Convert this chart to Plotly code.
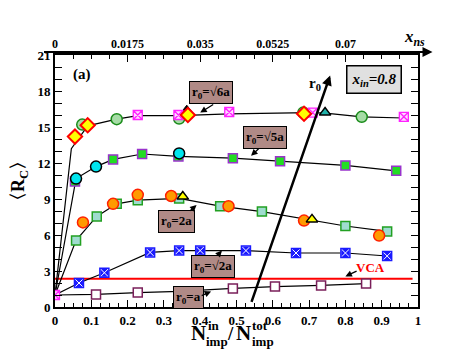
import plotly.graph_objects as go

# ---- data ----
# r0 = a  (open maroon squares)
xa = [0.113, 0.228, 0.342, 0.49, 0.606, 0.733, 0.857]
ya = [1.05, 1.2, 1.3, 1.55, 1.7, 1.8, 1.95]

# r0 = sqrt2 a  (blue patterned squares)
xb = [0.066, 0.136, 0.262, 0.342, 0.40, 0.526, 0.664, 0.80, 0.915]
yb = [2.0, 2.85, 4.55, 4.7, 4.7, 4.7, 4.5, 4.5, 4.25]

# r0 = 2a  (hatched green squares, orange circles, yellow triangles)
xg = [0.058, 0.115, 0.17, 0.228, 0.342, 0.455, 0.57, 0.80, 0.915]
yg = [5.55, 7.55, 8.6, 8.9, 9.05, 8.4, 7.95, 6.75, 6.3]
xo = [0.077, 0.16, 0.228, 0.32, 0.478, 0.686, 0.893]
yo = [7.05, 8.6, 9.35, 9.25, 8.4, 7.2, 5.95]
xyt = [0.352, 0.708]
yyt = [9.2, 7.3]

# r0 = sqrt5 a  (green filled squares, cyan circles)
xs5 = [0.055, 0.16, 0.24, 0.34, 0.49, 0.62, 0.80, 0.94]
ys5 = [10.45, 12.3, 12.75, 12.55, 12.4, 12.15, 11.8, 11.35]
xc = [0.058, 0.113, 0.342]
yc = [10.7, 11.7, 12.8]
x5_line = [0, 0.058, 0.113, 0.16, 0.24, 0.34, 0.49, 0.62, 0.80, 0.94]
y5_line = [1, 10.7, 11.7, 12.3, 12.75, 12.55, 12.4, 12.15, 11.8, 11.35]

# r0 = sqrt6 a  (green circles, magenta squares, diamonds, triangles)
xgc = [0.075, 0.17, 0.342, 0.684, 0.845]
ygc = [15.2, 15.65, 15.7, 16.2, 15.85]
xm = [0, 0.228, 0.34, 0.48, 0.71, 0.961]
ym = [1.0, 16.0, 16.0, 16.25, 16.2, 15.85]
xd = [0.055, 0.09, 0.366, 0.686]
yd = [14.2, 15.15, 16.0, 16.1]
xbt, ybt = [0.363], [16.4]
xtt, ytt = [0.744], [16.2]
x6_line = [0, 0.045, 0.09, 0.17, 0.228, 0.342, 0.48, 0.70, 0.745, 0.845, 0.96]
y6_line = [1, 13.2, 15.1, 15.65, 15.95, 15.95, 16.1, 16.2, 16.15, 15.85, 15.75]

vca = 2.35
top_ticks = [0, 0.0175, 0.035, 0.0525, 0.07]
top_text = ["0", "0.0175", "0.035", "0.0525", "0.07"]

FONT = "Liberation Serif"

fig = go.Figure()

def line(x, y):
    fig.add_trace(go.Scatter(x=x, y=y, mode="lines", line=dict(color="black", width=1.2),
                             hoverinfo="skip"))

def pts(x, y, sym, fill, edge, size=10, lw=1.5):
    fig.add_trace(go.Scatter(x=x, y=y, mode="markers",
                             marker=dict(symbol=sym, size=size, color=fill,
                                         line=dict(color=edge, width=lw))))

# VCA line
fig.add_trace(go.Scatter(x=[0, 0.985], y=[vca, vca], mode="lines",
                         line=dict(color="#ff0000", width=2)))

# lines
line([0] + xa, [1] + ya)
line([0] + xb, [1] + yb)
line([0] + xg, [1] + yg)
line(x5_line, y5_line)
line(x6_line, y6_line)

# markers
pts(xa, ya, "square", "white", "#7a1f5a", 9, 1.5)
pts(xb, yb, "square-x", "#1a1aff", "white", 9, 1)
pts(xb, yb, "square-open", "#1a1aff", "#1a1aff", 9, 1.5)
pts(xg, yg, "square", "#9fdccf", "#22a022", 9, 1.5)
pts(xo, yo, "circle", "#ff9a00", "#ff2000", 11, 1.5)
pts(xyt, yyt, "triangle-up", "#ffff00", "black", 10, 1.5)
pts(xs5, ys5, "square", "#22dd22", "#9933cc", 9, 1.5)
pts(xc, yc, "circle", "#00e5ee", "black", 11, 1.5)
pts(xgc, ygc, "circle", "#a6dca6", "#1a8c1a", 11, 1.5)
pts(xbt, ybt, "triangle-up", "black", "black", 10, 1)
pts(xm, ym, "square-x", "#ffd8ff", "#ff22ff", 9, 1.3)
pts(xd, yd, "diamond", "#ffff00", "#ff0000", 11, 2)
pts(xtt, ytt, "triangle-up", "#20b2aa", "black", 10, 1.5)

# invisible trace for top axis
fig.add_trace(go.Scatter(x=[0, 0.0875], y=[0, 0], xaxis="x2", mode="markers",
                         marker=dict(opacity=0), hoverinfo="skip"))

ann = []

def box(x, y, text, bg="#b08a86"):
    ann.append(dict(x=x, y=y, xref="x", yref="y", text=text, showarrow=False,
                    font=dict(family=FONT, size=13, color="black"),
                    bgcolor=bg, bordercolor="black", borderwidth=1, borderpad=2))

def arrow(x, y, ax, ay, color="black", w=1.3, size=1):
    ann.append(dict(x=x, y=y, ax=ax, ay=ay, xref="x", yref="y", axref="x", ayref="y",
                    text="", showarrow=True, arrowhead=2, arrowsize=size,
                    arrowwidth=w, arrowcolor=color))

box(0.43, 17.9, "<b>r<sub>0</sub>=√6a</b>")
arrow(0.40, 16.2, 0.44, 16.95)
box(0.578, 14.1, "<b>r<sub>0</sub>=√5a</b>")
arrow(0.54, 12.6, 0.565, 13.3)
box(0.335, 7.1, "<b>r<sub>0</sub>=2a</b>")
arrow(0.39, 8.5, 0.368, 7.9)
box(0.436, 3.35, "<b>r<sub>0</sub>=√2a</b>")
arrow(0.46, 4.7, 0.445, 4.2)
box(0.367, 0.8, "<b>r<sub>0</sub>=a</b>")
arrow(0.43, 1.3, 0.40, 0.9)

# VCA label
ann.append(dict(x=0.868, y=3.3, xref="x", yref="y", text="<b>VCA</b>", showarrow=False,
                font=dict(family=FONT, size=13, color="#ff0000")))
arrow(0.80, 2.55, 0.835, 3.05)

# big r0 arrow
arrow(0.758, 19.3, 0.54, 0.3, w=2.5, size=0.8)
ann.append(dict(x=0.716, y=18.6, xref="x", yref="y", text="<b>r<sub>0</sub></b>",
                showarrow=False, font=dict(family=FONT, size=15, color="black")))

# x_in box
box(0.88, 18.95, "<b><i>x<sub>in</sub>=0.8</i></b>", bg="#e0e0e0")
ann[-1]["font"]["size"] = 15
ann[-1]["borderpad"] = 4
ann[-1]["borderwidth"] = 1.5

# panel label
ann.append(dict(x=0.074, y=19.4, xref="x", yref="y", text="<b>(a)</b>", showarrow=False,
                font=dict(family=FONT, size=15, color="black")))

# top axis arrow and label
ann.append(dict(x=1.04, y=1.012, xref="paper", yref="paper", ax=-390, ay=0,
                text="", showarrow=True, arrowhead=2, arrowsize=1, arrowwidth=2,
                arrowcolor="black"))
ann.append(dict(x=0.99, y=1.067, xref="paper", yref="paper", xanchor="center",
                yanchor="middle", text="<b><i>x<sub>ns</sub></i></b>", showarrow=False,
                font=dict(family=FONT, size=17, color="black")))

# x-axis title pieces (positions in screen pixels of the 55..418 x 55..307.5 frame)
def px2paper(px, py):
    return (px - 55) / 363.0, (307.5 - py) / 252.5

def label(px, py, text, size, xanchor="center"):
    x, y = px2paper(px, py)
    ann.append(dict(x=x, y=y, xref="paper", yref="paper", text="<b>" + text + "</b>",
                    showarrow=False, xanchor=xanchor, yanchor="middle",
                    font=dict(family=FONT, size=size, color="black")))

label(198, 334, "N", 21)
label(206, 326, "in", 13, "left")
label(204, 342, "imp", 13, "left")
label(230, 334, "/", 19)
label(243, 334, "N", 21)
label(250, 326, "tot", 13, "left")
label(250, 342, "imp", 13, "left")

ax_font = dict(family=FONT, size=13, color="black")

# page body has an 8px margin, so the figure is drawn 8px smaller
fig.update_layout(
    width=463, height=356,
    margin=dict(l=47, r=53, t=47, b=56.5, autoexpand=False),
    paper_bgcolor="white", plot_bgcolor="white",
    showlegend=False,
    annotations=ann,
    xaxis=dict(range=[0, 1], tickvals=[0, 0.1, 0.2, 0.3, 0.4, 0.5, 0.6, 0.7, 0.8, 0.9, 1],
               ticktext=["<b>0</b>", "<b>0.1</b>", "<b>0.2</b>", "<b>0.3</b>", "<b>0.4</b>",
                         "<b>0.5</b>", "<b>0.6</b>", "<b>0.7</b>", "<b>0.8</b>", "<b>0.9</b>",
                         "<b>1</b>"],
               ticks="inside", ticklen=7, tickwidth=1.2, tickcolor="black",
               minor=dict(dtick=0.025, ticks="inside", ticklen=4, tickcolor="black"),
               showline=True, linecolor="black", linewidth=2, showgrid=False,
               zeroline=False, tickfont=ax_font, automargin=False),
    xaxis2=dict(range=[0, 0.0875], overlaying="x", side="top", tickvals=top_ticks,
                ticktext=["<b>" + t + "</b>" for t in top_text],
                ticks="inside", ticklen=7, tickwidth=1.2, tickcolor="black",
                minor=dict(dtick=0.004375, ticks="inside", ticklen=4, tickcolor="black"),
                showline=True, linecolor="black", linewidth=2, showgrid=False,
                zeroline=False, tickfont=dict(family=FONT, size=12, color="black"),
                automargin=False),
    yaxis=dict(range=[0, 21], tickvals=[0, 3, 6, 9, 12, 15, 18, 21],
               ticktext=["<b>%d</b>" % v for v in [0, 3, 6, 9, 12, 15, 18, 21]],
               ticks="inside", ticklen=7, tickwidth=1.2, tickcolor="black",
               minor=dict(dtick=1, ticks="inside", ticklen=4, tickcolor="black"),
               showline=True, linecolor="black", linewidth=2, mirror="allticks",
               showgrid=False, zeroline=False, tickfont=ax_font, automargin=False,
               title=dict(text="<b>〈R<sub>C</sub>〉</b>", standoff=10,
                          font=dict(family=FONT, size=18, color="black"))),
)

fig.write_html("out.html")
